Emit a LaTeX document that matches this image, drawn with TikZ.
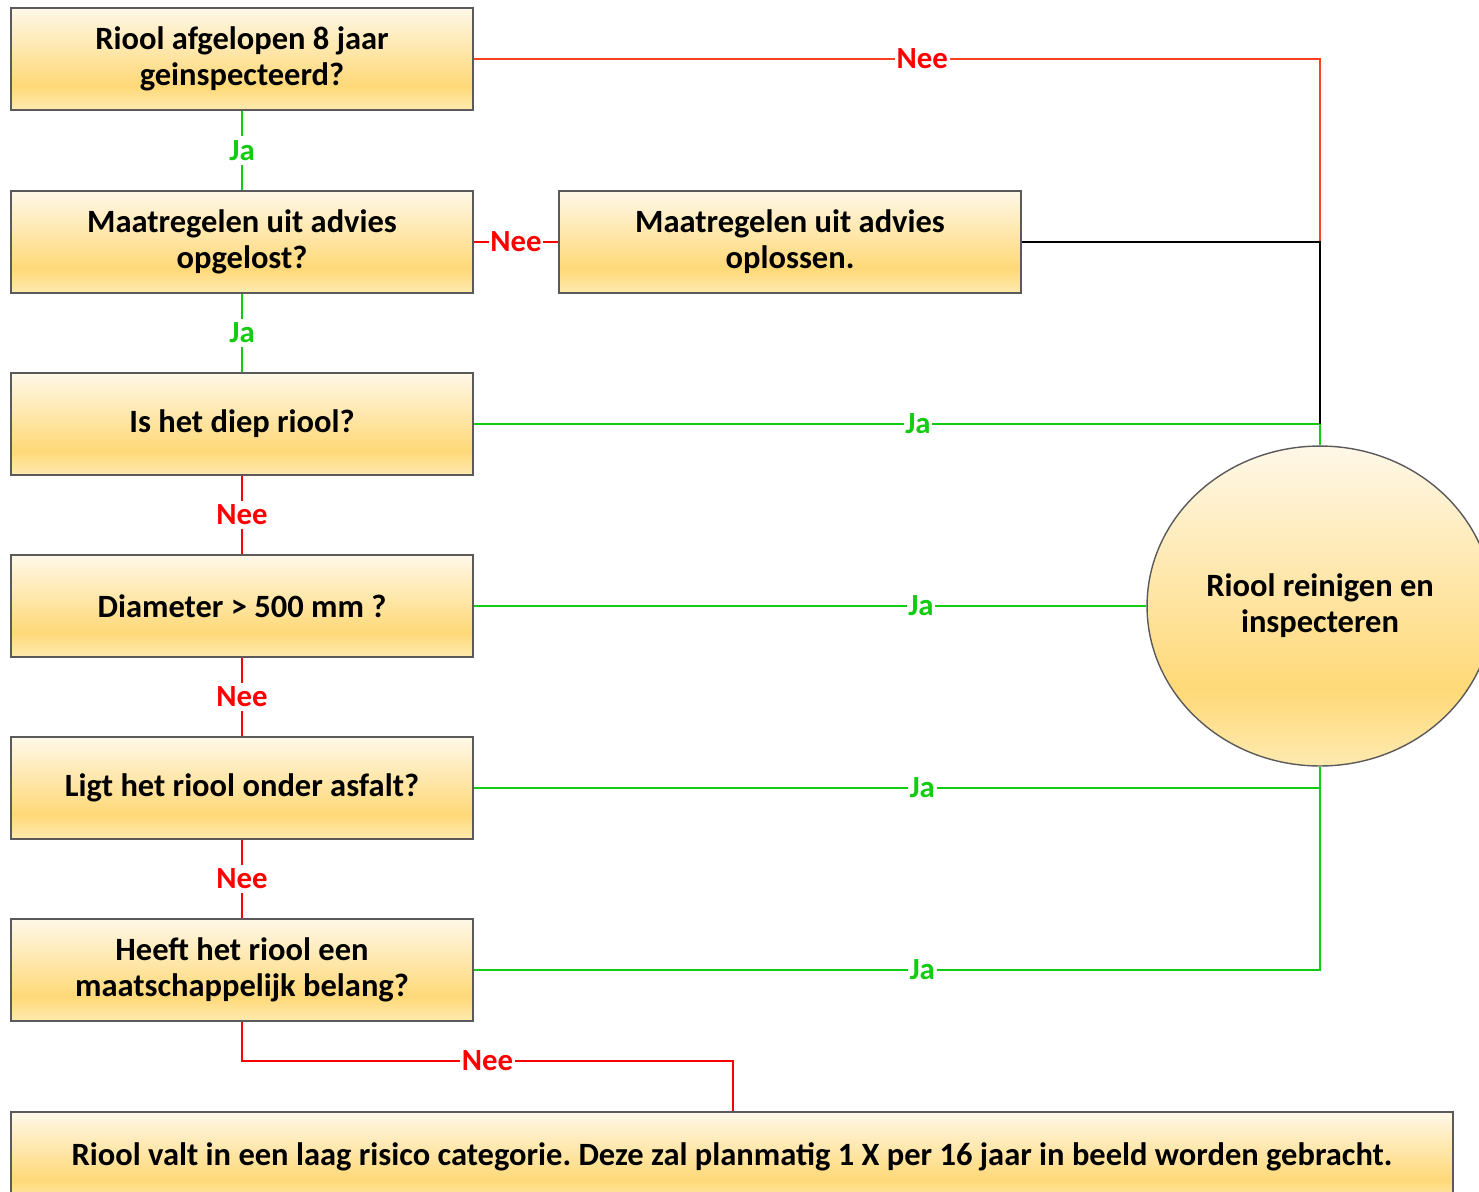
\documentclass[tikz,border=0pt]{standalone}
\usepackage{fontspec}
\setmainfont{Carlito}
\usetikzlibrary{shapes.geometric}
\frenchspacing
\definecolor{jagroen}{RGB}{17,204,17}
\definecolor{neerood}{RGB}{255,0,0}
\definecolor{neeoranje}{RGB}{255,64,32}
\definecolor{randgrijs}{RGB}{90,90,90}
\definecolor{geeltop}{RGB}{255,248,232}
\definecolor{geelmid}{RGB}{255,217,120}
\definecolor{geelbot}{RGB}{254,234,176}
\pgfdeclareverticalshading{geel}{100bp}{color(0bp)=(geelbot); color(25bp)=(geelbot); color(37bp)=(geelmid); color(75bp)=(geeltop); color(100bp)=(geeltop)}

\begin{document}
\begin{tikzpicture}[
    x=0.02cm, y=-0.02cm,
    font=\fontsize{18.5}{20.5}\selectfont\bfseries,
    vraag/.style={rectangle, draw=randgrijs, line width=0.8pt, shading=geel, minimum width=9.24cm, minimum height=2.04cm, align=center, inner sep=0pt},
    ja/.style={fill=white, text=jagroen, inner xsep=1pt, inner ysep=2.5pt, font=\fontsize{17.5}{20}\selectfont\bfseries},
    nee/.style={fill=white, text=neerood, inner xsep=1pt, inner ysep=2.5pt, font=\fontsize{17.5}{20}\selectfont\bfseries},
    jalijn/.style={draw=jagroen, line width=1.3pt},
    neelijn/.style={draw=neerood, line width=1.3pt}
]
\useasboundingbox (0,0) rectangle (1479,1191);

% Vragen in de linker kolom
\node[vraag] (q1) at (242,59) {Riool afgelopen 8 jaar\\geinspecteerd?};
\node[vraag] (q2) at (242,242) {Maatregelen uit advies\\opgelost?};
\node[vraag] (m2) at (790,242) {Maatregelen uit advies\\oplossen.};
\node[vraag] (q3) at (242,424) {Is het diep riool?};
\node[vraag] (q4) at (242,606) {Diameter > 500 mm ?};
\node[vraag] (q5) at (242,788) {Ligt het riool onder asfalt?};
\node[vraag] (q6) at (242,970) {Heeft het riool een\\maatschappelijk belang?};

% Uitkomsten
\node[vraag, ellipse, minimum width=6.92cm, minimum height=6.4cm] (reinig) at (1320,606) {Riool reinigen en\\inspecteren};
\node[vraag, minimum width=28.84cm, minimum height=1.8cm] (laag) at (732,1157) {Riool valt in een laag risico categorie. Deze zal planmatig 1 X per 16 jaar in beeld worden gebracht.};
\coordinate (knik) at (733,1061);

% Nee-takken
\draw[neelijn, draw=neeoranje] (q1.east) -- node[nee, pos=0.53] {Nee} (q1.east -| reinig.north) -- (m2.east -| reinig.north);
\draw[neelijn] (q2.east) -- node[nee] {Nee} (m2.west);
\draw[neelijn] (q3.south) -- node[nee] {Nee} (q4.north);
\draw[neelijn] (q4.south) -- node[nee] {Nee} (q5.north);
\draw[neelijn] (q5.south) -- node[nee] {Nee} (q6.north);
\draw[neelijn] (q6.south) -- (q6.south |- knik) -- node[nee] {Nee} (knik) -- (knik |- laag.north);

% Ja-takken
\draw[jalijn] (q1.south) -- node[ja] {Ja} (q2.north);
\draw[jalijn] (q2.south) -- node[ja] {Ja} (q3.north);
\draw[jalijn] (q3.east) -- node[ja, pos=0.525] {Ja} (q3.east -| reinig.north) -- (reinig.north);
\draw[jalijn] (q4.east) -- node[ja, pos=0.665] {Ja} (reinig.west);
\draw[jalijn] (q5.east) -- node[ja, pos=0.53] {Ja} (q5.east -| reinig.south) -- (reinig.south);
\draw[jalijn] (q6.east) -- node[ja, pos=0.53] {Ja} (q6.east -| reinig.south) -- (q5.east -| reinig.south);

% Opgeloste maatregelen
\draw[line width=1.3pt] (m2.east) -- (m2.east -| reinig.north) -- (q3.east -| reinig.north);

\end{tikzpicture}
\end{document}
